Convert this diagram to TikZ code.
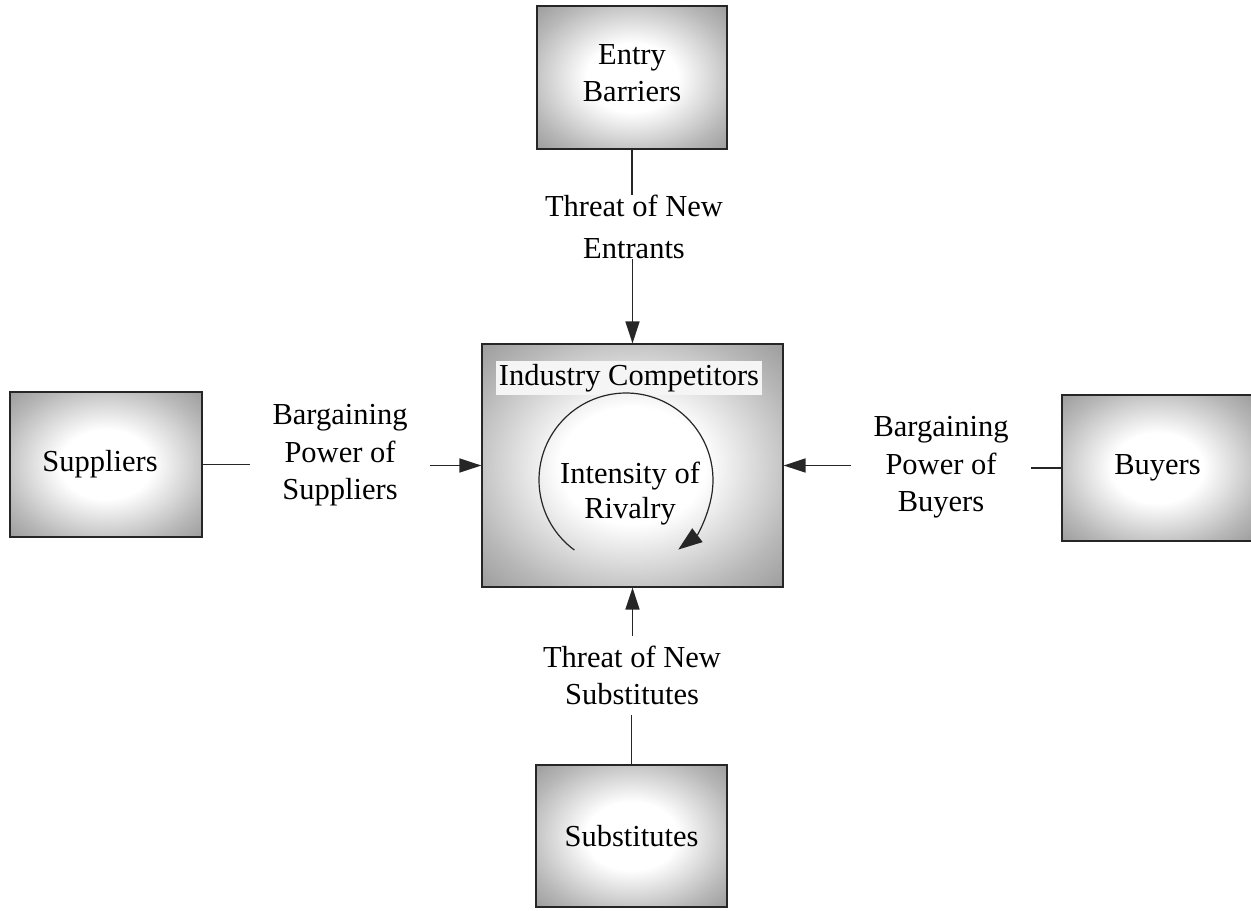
\documentclass[tikz,border=0pt]{standalone}
\usepackage{fontspec}
\setmainfont{Liberation Serif}
\usetikzlibrary{arrows.meta,calc}

% soft light centre fading to grey towards the edges of each box
\pgfdeclareradialshading{haze}{\pgfpoint{0bp}{0bp}}{%
  color(0bp)=(white); color(12bp)=(white); color(28bp)=(black!28);
  color(42bp)=(black!48); color(55bp)=(black!56); color(100bp)=(black!56)}

\tikzset{
  every node/.style={font=\fontsize{15.25pt}{18.75pt}\selectfont},
  forcebox/.style={draw=black!85, line width=0.6pt, shading=haze,
    rectangle, inner sep=0pt, align=center},
  forcelabel/.style={align=center, inner xsep=11pt, inner ysep=0pt},
  conn/.style={draw=black!85, line width=0.8pt},
  tip/.tip={Triangle[length=11pt, width=7pt]},
  bigtip/.tip={Triangle[length=12pt, width=8.5pt]}
}

\begin{document}
\begin{tikzpicture}[x=0.5pt, y=-0.5pt]
\useasboundingbox (0,0) rectangle (1251,910);

% the five forces
\node[forcebox, minimum width=95pt, minimum height=71.5pt] (entry) at (632,77.5) {Entry\\Barriers\\[-14.25pt]};
\node[forcebox, minimum width=150.5pt, minimum height=121.5pt] (core) at (632.5,465.5) {};
\node[forcebox, minimum width=96pt, minimum height=72.5pt] (supp) at (106,464.5) {Suppliers\hspace*{6pt}};
\node[forcebox, minimum width=95.5pt, minimum height=73pt] (buyers) at (1157.5,468) {Buyers};
\node[forcebox, minimum width=95.5pt, minimum height=71pt] (subs) at (631.5,836) {Substitutes};

% contents of the central box
\node[fill=black!4, inner sep=1.5pt] (ic) at (629,378) {Industry Competitors};
\coordinate (rc) at (626,480);
\node[align=center, font=\fontsize{15.25pt}{17.5pt}\selectfont] (rival) at (630,493.5) {Intensity of\\Rivalry};
\draw[conn, line width=0.6pt, -{bigtip}] ($(rc)+(126.4:87)$) arc[start angle=126.4, end angle=413.1, radius=87];

% force labels
\node[forcelabel, font=\fontsize{15.25pt}{20.8pt}\selectfont] (tnew) at (634,227) {Threat of New\\Entrants};
\node[forcelabel] (pwsup) at (340,455.5) {Bargaining\\Power of\\Suppliers};
\node[forcelabel] (pwbuy) at (941,467.5) {Bargaining\\Power of\\Buyers};
\node[forcelabel, inner ysep=5pt, font=\fontsize{15.25pt}{18.2pt}\selectfont] (tsub) at (632,675.5) {Threat of New\\Substitutes};

% connectors
\draw[conn] (entry.south) -- (entry.south |- tnew.north);
\draw[conn, -{tip}] (tnew.south -| core.north) -- (core.north);
\draw[conn] (supp.east) -- (supp.east -| pwsup.west);
\draw[conn, -{tip}] (pwsup.east |- core.west) -- (core.west);
\draw[conn, -{tip}] (pwbuy.west |- core.east) -- (core.east);
\draw[conn] (pwbuy.east |- buyers.west) -- (buyers.west);
\draw[conn, -{tip}] (tsub.north -| core.south) -- (core.south);
\draw[conn] (subs.north) -- (subs.north |- tsub.south);
\end{tikzpicture}
\end{document}
